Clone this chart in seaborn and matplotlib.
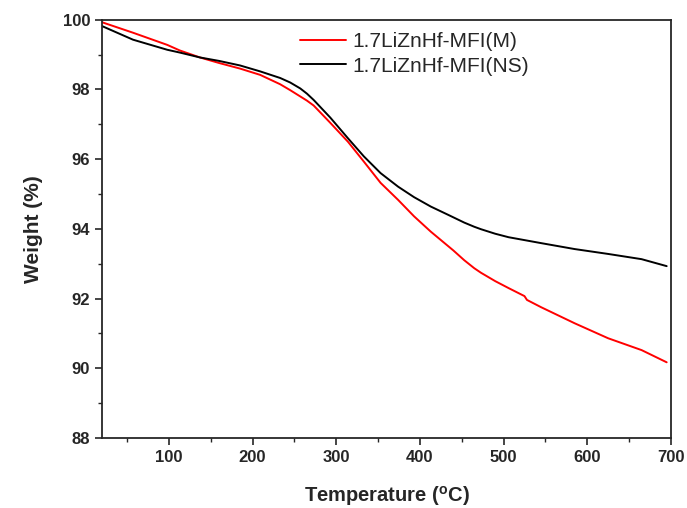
import numpy as np
import pandas as pd
import matplotlib
matplotlib.use('Agg')
import matplotlib.pyplot as plt
import seaborn as sns
from matplotlib.ticker import MultipleLocator

# TGA curves
temp_m = [20, 57, 98, 113, 137, 160, 185, 209, 233, 245, 257, 265, 273, 293, 314, 333, 353,
          374, 393, 413, 425, 440, 453, 465, 473, 490, 506, 525, 528, 545, 585, 625, 665, 695]
weight_m = [99.93, 99.63, 99.28, 99.12, 98.92, 98.76, 98.6, 98.42, 98.15, 97.98, 97.8, 97.68,
            97.54, 97.04, 96.5, 95.93, 95.32, 94.83, 94.36, 93.92, 93.68, 93.38, 93.1, 92.87,
            92.74, 92.5, 92.3, 92.07, 91.96, 91.75, 91.29, 90.86, 90.52, 90.17]

temp_ns = [20, 57, 98, 113, 137, 160, 185, 209, 233, 245, 257, 265, 273, 293, 314, 333, 353,
           374, 393, 413, 434, 453, 465, 473, 490, 506, 545, 585, 625, 665, 695]
weight_ns = [99.82, 99.43, 99.14, 99.06, 98.92, 98.82, 98.69, 98.52, 98.33, 98.2, 98.03, 97.88,
             97.7, 97.19, 96.6, 96.08, 95.6, 95.21, 94.91, 94.64, 94.4, 94.18, 94.06, 93.99,
             93.86, 93.76, 93.59, 93.42, 93.28, 93.13, 92.93]

labels = ['1.7LiZnHf-MFI(M)', '1.7LiZnHf-MFI(NS)']

df = pd.concat([
    pd.DataFrame({'T': temp_m, 'W': weight_m, 'sample': labels[0]}),
    pd.DataFrame({'T': temp_ns, 'W': weight_ns, 'sample': labels[1]}),
])

sns.set_style('ticks')
plt.rcParams['font.family'] = ['Liberation Sans', 'DejaVu Sans']
plt.rcParams['mathtext.fontset'] = 'custom'
plt.rcParams['mathtext.rm'] = 'Liberation Sans:bold'
plt.rcParams['mathtext.bf'] = 'Liberation Sans:bold'

fig = plt.figure(figsize=(6.87, 5.08), dpi=100)
ax = fig.add_axes([0.1485, 0.138, 0.828, 0.823])

sns.lineplot(data=df, x='T', y='W', hue='sample', palette=['#ff0000', 'black'],
             linewidth=1.4, ax=ax, sort=False)

ax.set_xlim(20, 700)
ax.set_ylim(88, 100)
ax.xaxis.set_major_locator(MultipleLocator(100))
ax.xaxis.set_minor_locator(MultipleLocator(50))
ax.yaxis.set_major_locator(MultipleLocator(2))
ax.yaxis.set_minor_locator(MultipleLocator(1))
ax.set_xticks(range(100, 701, 100))
ax.tick_params(which='major', direction='out', length=5, width=1.2, labelsize=12)
ax.tick_params(which='minor', direction='out', length=3, width=1.0)
for lab in ax.get_xticklabels() + ax.get_yticklabels():
    lab.set_fontweight('bold')
for sp in ax.spines.values():
    sp.set_linewidth(1.3)

ax.set_xlabel(r'Temperature ($^{\mathrm{o}}$C)', fontsize=14.5, fontweight='bold', labelpad=14)
ax.set_ylabel('Weight (%)', fontsize=15, fontweight='bold', labelpad=14)

ax.legend(title=None, frameon=False, fontsize=15, loc='center left',
          bbox_to_anchor=(0.348, 0.918), borderpad=0, borderaxespad=0,
          handlelength=2.2, handletextpad=0.3, labelspacing=0.25)

fig.savefig('out.png', dpi=100)
